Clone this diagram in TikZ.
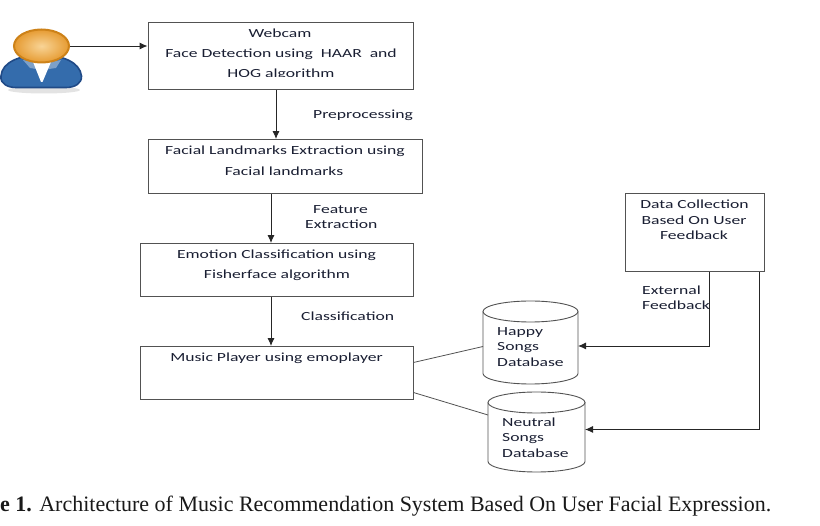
\documentclass[tikz,border=0pt]{standalone}
\usepackage{fontspec}
\setmainfont{Liberation Serif}
\newfontfamily\boxfont[FakeStretch=1.42]{Carlito}
\usetikzlibrary{shapes.geometric, arrows.meta}
\definecolor{linegray}{gray}{0.32}
\definecolor{inkblue}{RGB}{25,30,50}
\definecolor{bodyblue}{RGB}{52,108,172}
\definecolor{bodyrim}{RGB}{32,74,135}
\definecolor{collarblue}{RGB}{125,160,200}
\definecolor{headrim}{RGB}{205,130,25}
\definecolor{headlight}{RGB}{248,212,150}
\definecolor{headdark}{RGB}{230,155,50}
\tikzset{
	procbox/.style={draw=linegray, line width=0.9pt, inner sep=0pt, yshift=-0.5pt},
	dbshape/.style={inner sep=0pt, outer sep=0pt},
	dbline/.style={linegray, line width=0.9pt},
	boxtext/.style={font=\boxfont\fontsize{12.4}{13}\selectfont, text=inkblue, inner sep=0pt, yshift=-1pt},
	lefttext/.style={boxtext, anchor=west},
	flow/.style={-{Latex[length=8pt,width=7pt]}, black!85, line width=0.9pt},
	plainline/.style={linegray, line width=0.8pt}
}
\begin{document}
\begin{tikzpicture}[x=1pt, y=-1pt]
	\useasboundingbox (0,0) rectangle (820,526);
	% user figure
	\fill[gray!22] (44,90) ellipse (36 and 3.5);
	\fill[bodyblue, draw=bodyrim, line width=1.6pt] (1,76) .. controls (2,62) and (20,55) .. (41,55) .. controls (62,55) and (80,62) .. (81.5,76) .. controls (82,84) and (74,87.5) .. (66,87.5) -- (16,87.5) .. controls (8,87.5) and (0,84) .. (1,76) -- cycle;
	\fill[collarblue] (23,60) -- (33,62) -- (42,70) -- (30,68) -- cycle;
	\fill[collarblue] (61,60) -- (51,62) -- (42,70) -- (56,68) -- cycle;
	\fill[white] (33,62) -- (51,62) -- (42.5,82) -- (41,82) -- cycle;
	\node[ellipse, draw=headrim, line width=2pt, inner color=headlight, outer color=headdark, minimum width=55pt, minimum height=33pt, inner sep=0pt] (head) at (41.5,46) {};

	% boxes
	\node[procbox, minimum width=265pt, minimum height=67pt] (webcam) at (280.5,55.5) {};
	\node[procbox, minimum width=274pt, minimum height=54pt] (landmarks) at (285,166) {};
	\node[procbox, minimum width=273pt, minimum height=53pt] (emotion) at (276.5,269.5) {};
	\node[procbox, minimum width=273pt, minimum height=53pt] (player) at (276.5,372.5) {};
	\node[procbox, minimum width=139pt, minimum height=78pt] (datacoll) at (694.5,232) {};

	% databases
	\node[dbshape, minimum width=95pt, minimum height=83pt] (happydb) at (530.5,342.5) {};
	\node[dbshape, minimum width=97pt, minimum height=80pt] (neutraldb) at (536.5,432) {};
	\draw[dbline] ([yshift=-10.5pt]happydb.north west) arc (180:-180:47.5pt and 10.5pt);
	\draw[dbline] ([yshift=-10.5pt]happydb.north west) -- ([yshift=10.5pt]happydb.south west) arc (180:360:47.5pt and 10.5pt) -- ([yshift=-10.5pt]happydb.north east);
	\draw[dbline] ([yshift=-10.5pt]neutraldb.north west) arc (180:-180:48.5pt and 10.5pt);
	\draw[dbline] ([yshift=-10.5pt]neutraldb.north west) -- ([yshift=10.5pt]neutraldb.south west) arc (180:360:48.5pt and 10.5pt) -- ([yshift=-10.5pt]neutraldb.north east);

	% box texts
	\node[boxtext] (webcamA) at (280,32.5) {Webcam};
	\node[boxtext] (webcamB) at (281,53.5) {Face Detection using\ \ HAAR\ \ and};
	\begin{scope}
		\clip (148,60) rectangle (413,77);
		\node[boxtext] (webcamC) at (281,73.5) {HOG algorithm};
	\end{scope}
	\node[boxtext] (landmarksA) at (285,150.5) {Facial Landmarks Extraction using};
	\node[boxtext] (landmarksB) at (284,170.5) {Facial landmarks};
	\node[boxtext] (emotionA) at (276.5,254) {Emotion Classification using};
	\node[boxtext] (emotionB) at (277,274.5) {Fisherface algorithm};
	\node[boxtext] (playerA) at (276.5,357.5) {Music Player using emoplayer};
	\node[boxtext] (datacollA) at (694.5,203.5) {Data Collection};
	\node[boxtext] (datacollB) at (694,219) {Based On User};
	\node[boxtext] (datacollC) at (694,234.5) {Feedback};

	% labels on the arrows
	\node[lefttext] (preproc) at (313,114.5) {Preprocessing};
	\node[lefttext] (featA) at (313,208.5) {Feature};
	\node[lefttext] (featB) at (305,223.5) {Extraction};
	\node[lefttext] (classif) at (301,315.5) {Classification};
	\node[lefttext] (extA) at (642,289.5) {External};
	\node[lefttext] (extB) at (642,304.5) {Feedback};
	\node[lefttext] (happyA) at (497,331.5) {Happy};
	\node[lefttext] (happyB) at (497,346.5) {Songs};
	\node[lefttext] (happyC) at (497,361.5) {Database};
	\node[lefttext] (neutralA) at (502,421.5) {Neutral};
	\node[lefttext] (neutralB) at (502,437.5) {Songs};
	\node[lefttext] (neutralC) at (502,452.5) {Database};

	% connectors
	\draw[flow] (head.east) -- (webcam.west |- head.east);
	\draw[flow] ([xshift=-4.5]webcam.south) -- ([xshift=-9]landmarks.north);
	\draw[flow] ([xshift=-14]landmarks.south) -- ([xshift=-5.5]emotion.north);
	\draw[flow] ([xshift=-5.5]emotion.south) -- ([xshift=-5.5]player.north);
	\draw[plainline] ([yshift=10.5]player.east) -- ([yshift=-4]happydb.west);
	\draw[plainline] ([yshift=-19.5]player.east) -- ([yshift=17]neutraldb.west);
	\draw[flow] ([xshift=14.5]datacoll.south) |- ([yshift=-3.5]happydb.east);
	\draw[flow] ([xshift=64.5]datacoll.south) |- ([yshift=2.5]neutraldb.east);

	% caption
	\node[anchor=base west, inner sep=0pt, font=\fontsize{22}{24}\selectfont, text=black!90] (caption) at (0,512) {\textbf{e 1.} Architecture of Music Recommendation System Based On User Facial Expression.};
\end{tikzpicture}
\end{document}
